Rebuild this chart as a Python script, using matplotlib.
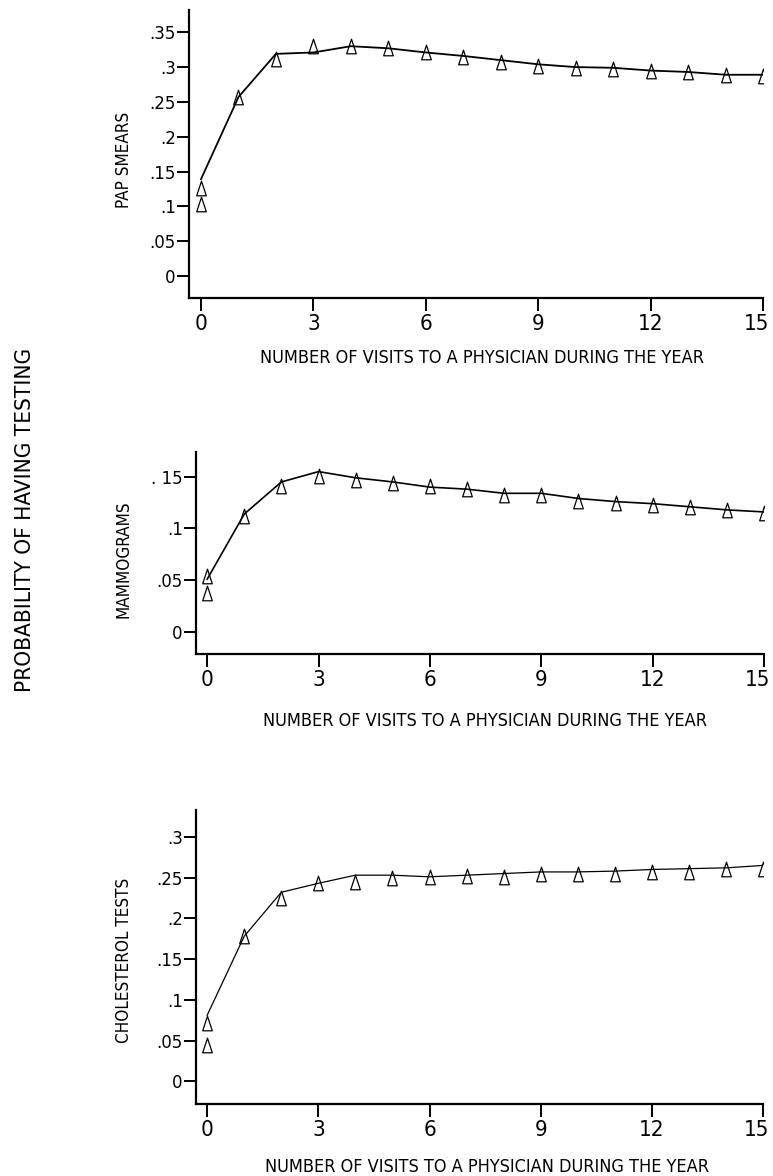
"""
Probability of having testing vs number of physician visits (3 panels)
"""
import matplotlib
matplotlib.use('Agg')
import matplotlib.pyplot as plt
import matplotlib.transforms as mtransforms
from matplotlib import font_manager as fm
from matplotlib.path import Path

# fonts: the original uses a condensed face, look for one
FONT, SCALE = 'DejaVu Sans', 1.0
cond = [f for f in fm.fontManager.ttflist
        if ('condensed' in f.fname.lower() or 'narrow' in f.fname.lower())
        and 'bold' not in f.fname.lower() and 'oblique' not in f.fname.lower()
        and 'italic' not in f.fname.lower()]
if cond:
    FONT = cond[0].name
    SCALE = 1.1
    plt.rcParams['font.stretch'] = cond[0].stretch
plt.rcParams['font.family'] = [FONT, 'DejaVu Sans']

# ---- data ----
visits = list(range(16))

pap_line = [0.139, 0.257, 0.319, 0.321, 0.330, 0.327, 0.321, 0.316, 0.310,
            0.304, 0.300, 0.299, 0.295, 0.293, 0.289, 0.289]
pap_obs = [0.126, 0.257, 0.311, 0.330, 0.330, 0.327, 0.322, 0.314, 0.308,
           0.302, 0.299, 0.297, 0.294, 0.293, 0.288, 0.287]
pap_obs0_extra = 0.104

mam_line = [0.051, 0.114, 0.145, 0.155, 0.149, 0.145, 0.140, 0.138, 0.134,
            0.134, 0.129, 0.126, 0.124, 0.121, 0.118, 0.116]
mam_obs = [0.054, 0.112, 0.141, 0.151, 0.147, 0.144, 0.141, 0.138, 0.132,
           0.132, 0.127, 0.125, 0.123, 0.121, 0.118, 0.115]
mam_obs0_extra = 0.038

chol_line = [0.081, 0.178, 0.232, 0.243, 0.253, 0.253, 0.251, 0.253, 0.255,
             0.257, 0.257, 0.258, 0.260, 0.261, 0.262, 0.265]
chol_obs = [0.071, 0.178, 0.225, 0.243, 0.245, 0.249, 0.251, 0.252, 0.251,
            0.254, 0.254, 0.255, 0.257, 0.257, 0.260, 0.261]
chol_obs0_extra = 0.045

xticks = [0, 3, 6, 9, 12, 15]
pap_yticks = [0, 0.05, 0.1, 0.15, 0.2, 0.25, 0.3, 0.35]
pap_ylabels = ['0', '.05', '.1', '.15', '.2', '.25', '.3', '.35']
mam_yticks = [0, 0.05, 0.1, 0.15]
mam_ylabels = ['0', '.05', '.1', '. 15']
chol_yticks = [0, 0.05, 0.1, 0.15, 0.2, 0.25, 0.3]
chol_ylabels = ['0', '.05', '.1', '.15', '.2', '.25', '.3']

XLABEL = 'NUMBER OF VISITS TO A PHYSICIAN DURING THE YEAR'

# narrow open triangle marker
tri = Path([(-0.33, -0.5), (0.33, -0.5), (0.0, 0.5), (-0.33, -0.5)],
           [Path.MOVETO, Path.LINETO, Path.LINETO, Path.CLOSEPOLY])

fig = plt.figure(figsize=(7.73, 11.76), dpi=100)
fig.patch.set_facecolor('white')

panels = [
    # rect, xlim-left, ylim, line, obs, extra, yticks, ylabels, name, line width, ylabel pos, xlabel pos
    ([0.2445, 0.7466, 0.7426, 0.2449], -0.32, (-0.0316, 0.382), pap_line, pap_obs,
     pap_obs0_extra, pap_yticks, pap_ylabels, 'PAP SMEARS', 1.3, (-0.113, 0.479), (0.51, -0.208)),
    ([0.2536, 0.4439, 0.7348, 0.1718], -0.30, (-0.0213, 0.174), mam_line, mam_obs,
     mam_obs0_extra, mam_yticks, mam_ylabels, 'MAMMOGRAMS', 1.2, (-0.127, 0.470), (0.509, -0.332)),
    ([0.2536, 0.0612, 0.7335, 0.2500], -0.30, (-0.028, 0.333), chol_line, chol_obs,
     chol_obs0_extra, chol_yticks, chol_ylabels, 'CHOLESTEROL TESTS', 0.9, (-0.127, 0.488), (0.513, -0.214)),
]

for rect, xl, yl, line, obs, extra, yt, ytl, name, lw, ylpos, xlpos in panels:
    ax = fig.add_axes(rect)
    ax.plot(visits, line, '-', color='black', linewidth=lw, zorder=2)
    ax.plot(visits, obs, linestyle='none', marker=tri, markersize=10.5,
            markerfacecolor='none', markeredgecolor='black', markeredgewidth=0.9, zorder=3)
    ax.plot([0], [extra], linestyle='none', marker=tri, markersize=10.5,
            markerfacecolor='none', markeredgecolor='black', markeredgewidth=0.9, zorder=3)

    ax.set_xlim(xl, 15)
    ax.set_ylim(*yl)
    ax.set_xticks(xticks)
    ax.set_xticklabels([str(v) for v in xticks], fontsize=16)
    ax.set_yticks(yt)
    ax.set_yticklabels(ytl, fontsize=13.3)

    for s in ['top', 'right']:
        ax.spines[s].set_visible(False)
    for s in ['left', 'bottom']:
        ax.spines[s].set_linewidth(1.6)
    ax.tick_params(axis='x', direction='out', length=9.5, width=1.4, pad=2)
    ax.tick_params(axis='y', direction='out', length=8.5, width=1.4, pad=1)

    # the last x label sits at the figure edge, nudge it inwards a bit
    last = ax.get_xticklabels()[-1]
    last.set_transform(last.get_transform() +
                       mtransforms.ScaledTranslation(-4.5 / 72, 0, fig.dpi_scale_trans))

    ax.set_ylabel(name, fontsize=11.1 * SCALE)
    ax.yaxis.set_label_coords(*ylpos)
    ax.yaxis.label.set_va('center')
    ax.set_xlabel(XLABEL, fontsize=11.8 * SCALE)
    ax.xaxis.set_label_coords(*xlpos)
    ax.xaxis.label.set_va('center')

fig.text(0.032, 0.558, 'PROBABILITY OF HAVING TESTING', rotation=90,
         ha='center', va='center', fontsize=14.7 * SCALE)

plt.savefig('out.png', dpi=100, facecolor='white')
print('saved out.png')
